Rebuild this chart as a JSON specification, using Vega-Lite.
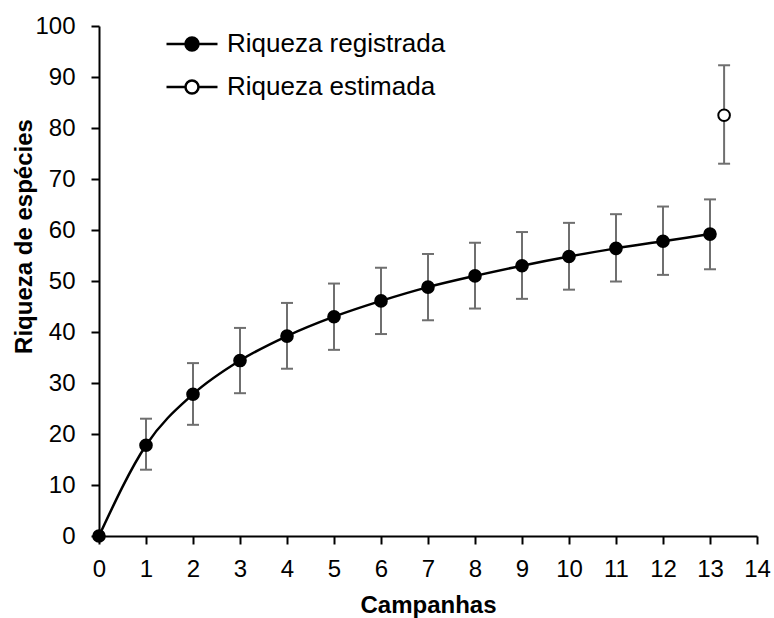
{
  "$schema": "https://vega.github.io/schema/vega-lite/v6.json",
  "width": 658,
  "height": 510,
  "autosize": {"type": "none"},
  "padding": {"left": 99, "top": 26, "right": 17, "bottom": 82},
  "background": "white",
  "config": {
    "view": {"stroke": null},
    "font": "Liberation Sans",
    "axis": {
      "grid": false,
      "labelFlush": false,
      "labelOverlap": false,
      "domainColor": "black",
      "domainWidth": 2,
      "tickColor": "black",
      "tickWidth": 2,
      "tickSize": 8,
      "labelFont": "Liberation Sans",
      "labelFontSize": 24,
      "labelColor": "black",
      "titleFont": "Liberation Sans",
      "titleFontSize": 24,
      "titleFontWeight": "bold",
      "titleColor": "black"
    }
  },
  "data": {
    "values": [
      {"campanha": 0, "riqueza": 0, "lo": 0, "hi": 0, "serie": "Riqueza registrada"},
      {"campanha": 1, "riqueza": 17.8, "lo": 13.0, "hi": 23.0, "serie": "Riqueza registrada"},
      {"campanha": 2, "riqueza": 27.8, "lo": 21.8, "hi": 33.9, "serie": "Riqueza registrada"},
      {"campanha": 3, "riqueza": 34.4, "lo": 28.0, "hi": 40.8, "serie": "Riqueza registrada"},
      {"campanha": 4, "riqueza": 39.2, "lo": 32.8, "hi": 45.7, "serie": "Riqueza registrada"},
      {"campanha": 5, "riqueza": 43.0, "lo": 36.5, "hi": 49.5, "serie": "Riqueza registrada"},
      {"campanha": 6, "riqueza": 46.1, "lo": 39.6, "hi": 52.6, "serie": "Riqueza registrada"},
      {"campanha": 7, "riqueza": 48.8, "lo": 42.3, "hi": 55.3, "serie": "Riqueza registrada"},
      {"campanha": 8, "riqueza": 51.0, "lo": 44.6, "hi": 57.5, "serie": "Riqueza registrada"},
      {"campanha": 9, "riqueza": 53.0, "lo": 46.5, "hi": 59.6, "serie": "Riqueza registrada"},
      {"campanha": 10, "riqueza": 54.8, "lo": 48.3, "hi": 61.4, "serie": "Riqueza registrada"},
      {"campanha": 11, "riqueza": 56.4, "lo": 49.9, "hi": 63.1, "serie": "Riqueza registrada"},
      {"campanha": 12, "riqueza": 57.8, "lo": 51.2, "hi": 64.6, "serie": "Riqueza registrada"},
      {"campanha": 13, "riqueza": 59.2, "lo": 52.3, "hi": 66.0, "serie": "Riqueza registrada"},
      {"campanha": 13.3, "riqueza": 82.5, "lo": 73.0, "hi": 92.3, "serie": "Riqueza estimada"}
    ]
  },
  "encoding": {
    "x": {
      "field": "campanha",
      "type": "quantitative",
      "scale": {"domain": [0, 14], "nice": false, "zero": false},
      "axis": {
        "values": [0,1,2,3,4,5,6,7,8,9,10,11,12,13,14],
        "labelPadding": 13,
        "title": "Campanhas",
        "titleY": 76,
        "titleBaseline": "alphabetic"
      }
    }
  },
  "layer": [
    {
      "mark": {"type": "rule", "color": "#6f6f6f", "strokeWidth": 2},
      "encoding": {
        "y": {"field": "lo", "type": "quantitative"},
        "y2": {"field": "hi"}
      }
    },
    {
      "mark": {"type": "tick", "orient": "horizontal", "color": "#6f6f6f", "size": 12, "thickness": 2, "opacity": 1},
      "encoding": {
        "y": {"field": "lo", "type": "quantitative"}
      }
    },
    {
      "mark": {"type": "tick", "orient": "horizontal", "color": "#6f6f6f", "size": 12, "thickness": 2, "opacity": 1},
      "encoding": {
        "y": {"field": "hi", "type": "quantitative"}
      }
    },
    {
      "transform": [{"filter": "datum.serie == 'Riqueza registrada'"}],
      "mark": {"type": "line", "color": "black", "strokeWidth": 2.5, "interpolate": "monotone"},
      "encoding": {
        "y": {"field": "riqueza", "type": "quantitative"}
      }
    },
    {
      "mark": {"type": "point", "shape": "circle", "filled": true, "stroke": "black", "strokeWidth": 2, "size": 135, "opacity": 1},
      "encoding": {
        "y": {
          "field": "riqueza",
          "type": "quantitative",
          "scale": {"domain": [0, 100], "nice": false},
          "axis": {
            "values": [0,10,20,30,40,50,60,70,80,90,100],
            "labelPadding": 16,
            "title": "Riqueza de espécies",
            "titleAngle": 270,
            "titleX": -68,
            "titleY": 210,
            "titleAlign": "center",
            "titleBaseline": "alphabetic"
          }
        },
        "fill": {
          "field": "serie",
          "type": "nominal",
          "scale": {"domain": ["Riqueza registrada", "Riqueza estimada"], "range": ["black", "white"]},
          "legend": {
            "title": null,
            "orient": "none",
            "legendX": 66,
            "legendY": -9,
            "padding": 0,
            "symbolType": "M-1,0L-0.255,0M0.255,0L1,0M-0.255,0A0.255,0.255,0,1,1,0.255,0A0.255,0.255,0,1,1,-0.255,0Z",
            "symbolSize": 2601,
            "symbolStrokeColor": "black",
            "symbolStrokeWidth": 2.5,
            "symbolOpacity": 1,
            "labelFont": "Liberation Sans",
            "labelFontSize": 26,
            "labelColor": "black",
            "labelOffset": 8,
            "labelLimit": 400,
            "rowPadding": 3
          }
        }
      }
    }
  ]
}
